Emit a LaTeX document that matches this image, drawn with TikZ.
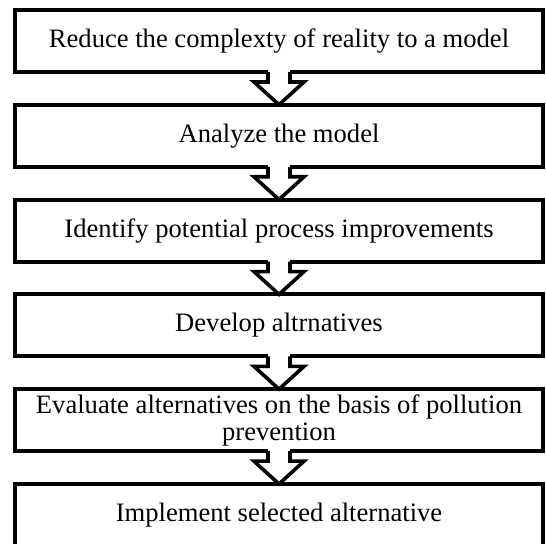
\documentclass[tikz,border=0pt]{standalone}
\usepackage{fontspec}
\setmainfont{Liberation Serif}
\usetikzlibrary{positioning,calc}

\begin{document}
\begin{tikzpicture}[font=\fontsize{13.3}{13.5}\selectfont,
  stage/.style={draw=black, line width=2pt, minimum width=264pt, minimum height=31pt,
                align=center, inner sep=0.5pt, outer sep=0pt, fill=white},
  hollow/.style={draw=black, line width=1.8pt, line join=miter},
  node distance=16.4pt]
\def\SW{5.5pt}\def\HW{12.5pt}\def\FL{5pt}
\useasboundingbox (-7.5pt,5pt) rectangle (265.5pt,-267pt);
% ---------------- stages
\node[stage, anchor=north west] (reduce) at (0,0) {Reduce the complexty of reality to a model};
\node[stage, below=of reduce] (analyze) {Analyze the model};
\node[stage, below=of analyze] (identify) {Identify potential process improvements};
\node[stage, below=of identify] (develop) {Develop altrnatives};
\node[stage, below=of develop] (evaluate) {Evaluate alternatives on the basis of pollution\\ prevention};
\node[stage, below=of evaluate] (implement) {Implement selected alternative};
% ---------------- hollow block arrows
\foreach \a/\b in {reduce/analyze, analyze/identify, identify/develop, develop/evaluate, evaluate/implement} {
  \fill[white] ($(\a.south)+(-\SW,1.2pt)$) rectangle ($(\a.south)+(\SW,-\FL)$);
  \draw[hollow] ($(\a.south)+(-\SW,0)$) -- ($(\a.south)+(-\SW,-\FL)$) -- ($(\a.south)+(-\HW,-\FL)$)
        -- (\b.north) -- ($(\a.south)+(\HW,-\FL)$) -- ($(\a.south)+(\SW,-\FL)$) -- ($(\a.south)+(\SW,0)$);
}
\end{tikzpicture}
\end{document}
